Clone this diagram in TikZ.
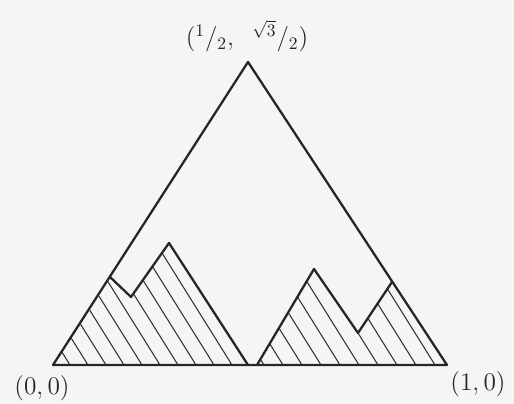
\documentclass[tikz,border=0pt]{standalone}
\usepackage{amsmath}
\begin{document}
\begin{tikzpicture}[x=0.02cm, y=-0.02cm,
    edge/.style={line width=1.3pt, draw=black!85, line join=round},
    hatch/.style={line width=0.6pt, draw=black!80},
    lbl/.style={font=\Large, text=black!85}]
    % 背景
    \fill[gray!8] (0,0) rectangle (514,404);
    \useasboundingbox (0,0) rectangle (514,404);

    % 大三角形
    \coordinate (O) at (53,365);
    \coordinate (A) at (447,365);
    \coordinate (T) at (248,62);
    \draw[edge] (O) -- (A) -- (T) -- cycle;

    % 左边的山
    \coordinate (L1) at (110,277);
    \coordinate (V1) at (131,297);
    \coordinate (P1) at (169,243);
    \coordinate (M1) at (248,365);
    \begin{scope}
        \clip (O) -- (L1) -- (V1) -- (P1) -- (M1) -- cycle;
        \foreach \b in {70,88,...,260} {
            \draw[hatch] (\b,365) -- ++(-80,-128);
        }
    \end{scope}
    \draw[edge] (L1) -- (V1) -- (P1) -- (M1);

    % 右边的山
    \coordinate (M2) at (257,365);
    \coordinate (P2) at (314,269);
    \coordinate (V2) at (358,333);
    \coordinate (R1) at (392,282);
    \begin{scope}
        \clip (M2) -- (P2) -- (V2) -- (R1) -- (A) -- cycle;
        \foreach \b in {264,283,...,450} {
            \draw[hatch] (\b,365) -- ++(-80,-128);
        }
    \end{scope}
    \draw[edge] (M2) -- (P2) -- (V2) -- (R1);

    % 坐标标注
    \node[lbl] (top) at (247,36) {$({}^{1}/{}_{2},\;\; {}^{\sqrt{3}}/{}_{2})$};
    \node[lbl] (orig) at (42,388) {$(0,0)$};
    \node[lbl] (one) at (478,384) {$(1,0)$};
\end{tikzpicture}
\end{document}
